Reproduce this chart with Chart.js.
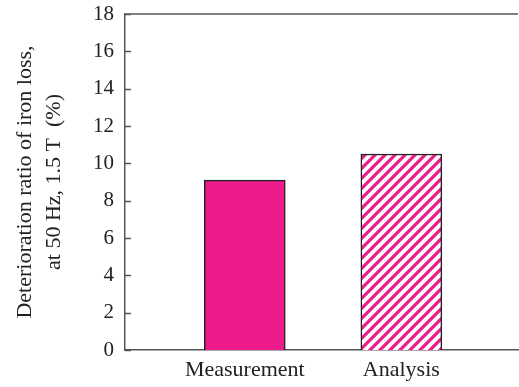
<!DOCTYPE html>
<html>
<head>
<meta charset="utf-8">
<script src="https://cdn.jsdelivr.net/npm/chart.js@4.4.0/dist/chart.umd.min.js"></script>
<style>
  html, body { margin: 0; padding: 0; background: #fff; }
  #wrap { width: 519px; height: 387px; }
</style>
</head>
<body>
<div id="wrap"><canvas id="chart" width="519" height="387"></canvas></div>
<script>
// Chart data
const categories = ["Measurement", "Analysis"];
const ratioValues = [9.1, 10.5];
const yTicks = [0, 2, 4, 6, 8, 10, 12, 14, 16, 18];
const yTitle = ["Deterioration ratio of iron loss,", "at 50 Hz, 1.5 T  (%)"];

const pink = "#EC1C8C";
const serif = "'Liberation Serif', 'DejaVu Serif', serif";

// Diagonal hatch for the analysis bar
function makeHatch() {
    let c = document.createElement("canvas");
    c.width = 10;
    c.height = 10;
    let g = c.getContext("2d");
    g.fillStyle = "#fff";
    g.fillRect(0, 0, 10, 10);
    g.strokeStyle = pink;
    g.lineWidth = 3.2;
    g.beginPath();
    g.moveTo(-2, 12); g.lineTo(12, -2);
    g.moveTo(-7, 7); g.lineTo(7, -7);
    g.moveTo(3, 17); g.lineTo(17, 3);
    g.stroke();
    return g.createPattern(c, "repeat");
}

// Top frame line plus inward tick marks on the y axis
const framePlugin = {
    id: "frame",
    afterDraw(chart) {
        let ctx = chart.ctx;
        let area = chart.chartArea;
        let y = chart.scales.y;
        ctx.save();
        ctx.strokeStyle = "#555";
        ctx.lineWidth = 1.5;
        ctx.beginPath();
        ctx.moveTo(area.left, area.top);
        ctx.lineTo(area.right, area.top);
        y.ticks.forEach(t => {
            let py = Math.round(y.getPixelForValue(t.value)) + 0.5;
            ctx.moveTo(area.left, py);
            ctx.lineTo(area.left + 6, py);
        });
        ctx.stroke();
        ctx.restore();
    }
};

let ctx = document.getElementById("chart").getContext("2d");
let hatch = makeHatch();

new Chart(ctx, {
    type: "bar",
    data: {
        datasets: [{
            data: ratioValues.map((v, i) => ({ x: i + 1, y: v })),
            backgroundColor: [pink, hatch],
            borderColor: "#222",
            borderWidth: 1.5,
            barThickness: 81
        }]
    },
    options: {
        responsive: false,
        animation: false,
        layout: { padding: { top: 14, right: 1, left: 0, bottom: 0 } },
        plugins: {
            legend: { display: false },
            tooltip: { enabled: false }
        },
        scales: {
            x: {
                type: "linear",
                offset: false,
                min: 0.235,
                max: 2.745,
                afterBuildTicks: scale => {
                    scale.ticks = categories.map((c, i) => ({ value: i + 1 }));
                },
                afterFit: scale => {
                    scale.height = 37;
                    scale.paddingLeft = 0;
                    scale.paddingRight = 0;
                },
                grid: { display: false, drawTicks: false },
                border: { display: true, color: "#555", width: 1.5 },
                ticks: {
                    color: "#222",
                    padding: 7,
                    maxRotation: 0,
                    autoSkip: false,
                    font: { family: serif, size: 22 },
                    callback: v => categories[v - 1] || ""
                }
            },
            y: {
                min: 0,
                max: 18,
                afterBuildTicks: scale => {
                    scale.ticks = yTicks.map(v => ({ value: v }));
                },
                afterFit: scale => {
                    scale.width = 125;
                    scale.paddingTop = 0;
                    scale.paddingBottom = 0;
                },
                grid: { display: false, drawTicks: false },
                border: { display: true, color: "#555", width: 1.5 },
                ticks: {
                    color: "#222",
                    padding: 11,
                    font: { family: serif, size: 21 }
                },
                title: {
                    display: true,
                    text: yTitle,
                    color: "#222",
                    padding: { top: 10, bottom: 0 },
                    font: { family: serif, size: 22, lineHeight: 1.35 }
                }
            }
        }
    },
    plugins: [framePlugin]
});
</script>
</body>
</html>
